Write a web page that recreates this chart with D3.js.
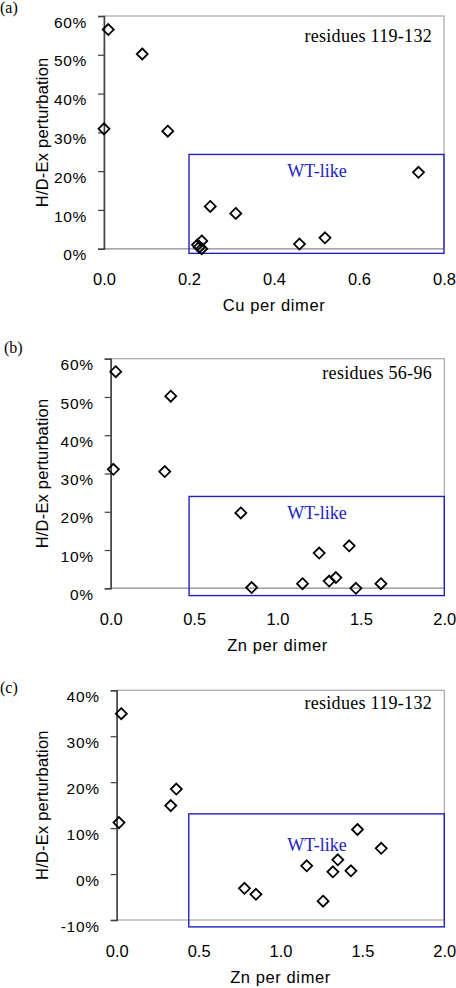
<!DOCTYPE html>
<html><head><meta charset="utf-8">
<script src="https://cdn.jsdelivr.net/npm/d3@7"></script>
<style>
html,body{margin:0;padding:0;background:#fff;}
svg{display:block;}
</style></head>
<body>
<svg id="chart" width="456" height="988"></svg>
<script>
// ---- data ----
const cuA = [0.01, 0.09, 0.0, 0.15, 0.74, 0.25, 0.31, 0.52, 0.46, 0.23, 0.22, 0.224, 0.23];
const hdA = [56.5, 50.2, 30.9, 30.3, 19.7, 10.9, 9.1, 2.8, 1.2, 2.0, 1.0, 0.4, 0.0];

const znB = [0.03, 0.36, 0.016, 0.324, 0.78, 1.25, 1.43, 1.35, 1.31, 1.15, 1.62, 0.845, 1.47];
const hdB = [56.6, 50.2, 31.1, 30.5, 19.7, 9.2, 11.1, 2.8, 1.9, 1.2, 1.2, 0.2, 0.0];

const znC = [0.028, 0.014, 0.33, 0.364, 1.47, 1.615, 1.35, 1.16, 1.32, 1.43, 0.78, 0.85, 1.26];
const hdC = [34.9, 11.2, 14.9, 18.5, 9.7, 5.6, 3.1, 1.8, 0.5, 0.7, -3.1, -4.4, -5.9];

const xTicksCu = [0, 0.2, 0.4, 0.6, 0.8];
const xTicksZn = [0, 0.5, 1.0, 1.5, 2.0];
const yTicks60 = [0, 10, 20, 30, 40, 50, 60];
const yTicks40 = [-10, 0, 10, 20, 30, 40];

const panelLabels = ["(a)", "(b)", "(c)"];
const xTitles = ["Cu per dimer", "Zn per dimer", "Zn per dimer"];
const yTitle = "H/D-Ex perturbation";
const residueLabels = ["residues 119-132", "residues 56-96", "residues 119-132"];
const boxLabel = "WT-like";
// WT-like box extents [x0, x1, y0, y1] in data units
const boxA = [0.2, 0.8, -1.2, 24.3];
const boxB = [0.47, 2.0, -1.9, 24.0];
const boxC = [0.44, 2.0, -11.5, 13.1];

// ---- layout ----
const panels = [
  {xs: cuA, ys: hdA, xTicks: xTicksCu, yTicks: yTicks60, xDom: [0, 0.8], yDom: [0, 60],
   L: 104, R: 444, T: 16, B: 248.7, box: boxA, label: panelLabels[0], lx: 0, ly: 12.7,
   resDy: 25.5, wtDy: 23, xTitle: xTitles[0], res: residueLabels[0], fmt: d3.format(".1f")},
  {xs: znB, ys: hdB, xTicks: xTicksZn, yTicks: yTicks60, xDom: [0, 2], yDom: [0, 60],
   L: 110.7, R: 444.3, T: 358.7, B: 588.3, box: boxB, label: panelLabels[1], lx: 4, ly: 353.3,
   resDy: 19.8, wtDy: 22.7, xTitle: xTitles[1], res: residueLabels[1], fmt: d3.format(".1f")},
  {xs: znC, ys: hdC, xTicks: xTicksZn, yTicks: yTicks40, xDom: [0, 2], yDom: [-10, 40],
   L: 116.7, R: 444.3, T: 690.3, B: 920, box: boxC, label: panelLabels[2], lx: 0, ly: 693.3,
   resDy: 19, wtDy: 37, xTitle: xTitles[2], res: residueLabels[2], fmt: d3.format(".1f")}
];

const svg = d3.select("#chart");
const sans = "'Liberation Sans', Arial, sans-serif";
const serif = "'Liberation Serif', 'Times New Roman', serif";
const blue = "#2121c4";
const diamond = "M0,-5.5L5.5,0L0,5.5L-5.5,0Z";

panels.forEach(p => {
  const x = d3.scaleLinear().domain(p.xDom).range([p.L, p.R]);
  const y = d3.scaleLinear().domain(p.yDom).range([p.B, p.T]);
  const g = svg.append("g");

  // frame (gray)
  g.append("rect").attr("x", p.L).attr("y", p.T)
    .attr("width", p.R - p.L).attr("height", p.B - p.T)
    .attr("fill", "none").attr("stroke", "#a6a6a6").attr("stroke-width", 1.2);

  // zero line where the domain starts at zero
  if (p.yDom[0] === 0) {
    g.append("line").attr("x1", p.L).attr("x2", p.R).attr("y1", y(0)).attr("y2", y(0))
      .attr("stroke", "#a6a6a6").attr("stroke-width", 1.5);
  }

  // y axis
  const yAxis = d3.axisLeft(y).tickValues(p.yTicks).tickSize(6).tickFormat(d => d + "%");
  const ya = g.append("g").attr("transform", `translate(${p.L},0)`).call(yAxis);
  ya.select(".domain").attr("stroke", "#404040").attr("stroke-width", 1.5);
  ya.selectAll(".tick line").attr("stroke", "#404040").attr("stroke-width", 1.2);
  ya.selectAll(".tick text").attr("x", -17).attr("dy", "0.72em")
    .attr("font-family", sans).attr("font-size", 15.5).attr("fill", "#000")
    .attr("letter-spacing", 0.7);

  // x axis (labels only)
  const xAxis = d3.axisBottom(x).tickValues(p.xTicks).tickSize(0).tickFormat(p.fmt);
  const xa = g.append("g").attr("transform", `translate(0,${p.B})`).call(xAxis);
  xa.select(".domain").remove();
  xa.selectAll(".tick text").attr("y", 36.7).attr("dy", 0)
    .attr("font-family", sans).attr("font-size", 16.5).attr("fill", "#000");

  // axis titles
  g.append("text").attr("x", (p.L + p.R) / 2).attr("y", p.B + 62.5)
    .attr("text-anchor", "middle").attr("font-family", sans).attr("font-size", 16.5)
    .attr("letter-spacing", 0.6).text(p.xTitle);
  g.append("text")
    .attr("transform", `translate(48,${(p.T + p.B) / 2}) rotate(-90)`)
    .attr("text-anchor", "middle").attr("font-family", sans).attr("font-size", 16.5)
    .attr("letter-spacing", 0.2).text(yTitle);

  // WT-like box
  const b = p.box;
  g.append("rect").attr("x", x(b[0])).attr("y", y(b[3]))
    .attr("width", x(b[1]) - x(b[0])).attr("height", y(b[2]) - y(b[3]))
    .attr("fill", "none").attr("stroke", blue).attr("stroke-width", 1.4);
  g.append("text").attr("x", 317).attr("y", y(b[3]) + p.wtDy)
    .attr("text-anchor", "middle").attr("font-family", serif).attr("font-size", 18)
    .attr("fill", blue).text(boxLabel);

  // residues label
  g.append("text").attr("x", 432).attr("y", p.T + p.resDy)
    .attr("text-anchor", "end").attr("font-family", serif).attr("font-size", 18)
    .attr("letter-spacing", 0.3).attr("fill", "#000").text(p.res);

  // panel label
  g.append("text").attr("x", p.lx).attr("y", p.ly)
    .attr("font-family", serif).attr("font-size", 16).attr("fill", "#000").text(p.label);

  // markers
  g.append("g").selectAll("path").data(p.xs.map((v, i) => [v, p.ys[i]])).join("path")
    .attr("d", diamond)
    .attr("transform", d => `translate(${x(d[0])},${y(d[1])})`)
    .attr("fill", "none").attr("stroke", "#000").attr("stroke-width", 1.8);
});
</script>
</body></html>
